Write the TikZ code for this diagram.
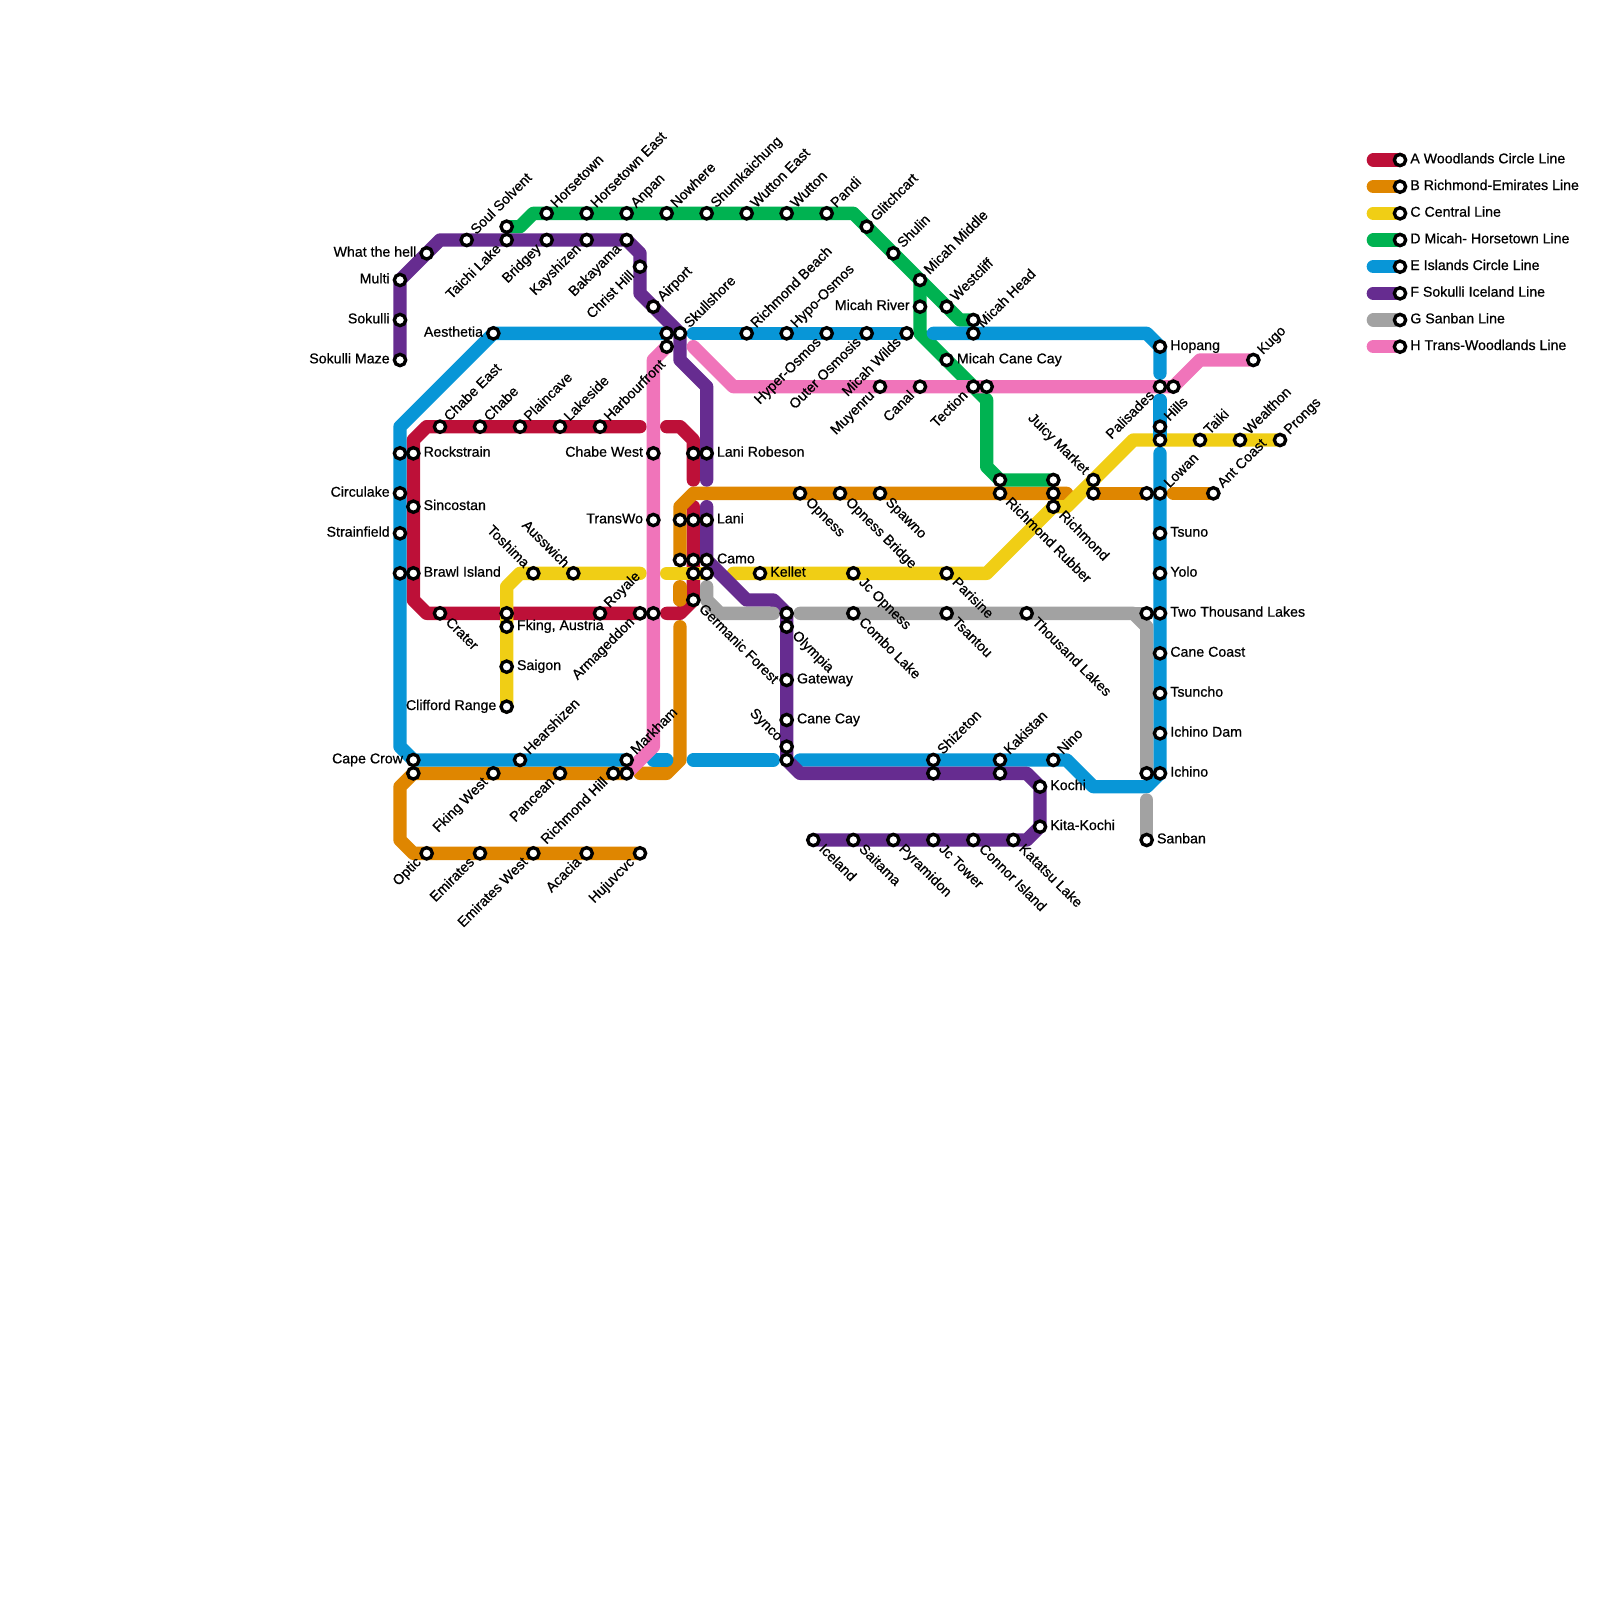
\documentclass[tikz,border=0pt]{standalone}
\usepackage{fontspec}
\setmainfont{Liberation Sans}[FakeBold=0.7]
\usetikzlibrary{backgrounds}
\definecolor{linea}{HTML}{BD1038}
\definecolor{lineb}{HTML}{DF8600}
\definecolor{linec}{HTML}{F0CE15}
\definecolor{lined}{HTML}{00B251}
\definecolor{linee}{HTML}{0896D7}
\definecolor{linef}{HTML}{662C90}
\definecolor{lineg}{HTML}{A2A2A2}
\definecolor{lineh}{HTML}{F074BA}
\tikzset{
    metro/.style={line width=4mm, line cap=round, line join=round},
    aline/.style={metro, draw=linea},
    bline/.style={metro, draw=lineb},
    cline/.style={metro, draw=linec},
    dline/.style={metro, draw=lined},
    eline/.style={metro, draw=linee},
    fline/.style={metro, draw=linef},
    gline/.style={metro, draw=lineg},
    hline/.style={metro, draw=lineh},
    stn/.style={circle, draw=black, fill=white, line width=1mm, minimum size=3.4mm, inner sep=0pt, outer sep=0pt},
    lbl/.style={font=\fontsize{12.1}{12}\selectfont, inner ysep=0pt, inner xsep=3.1mm, text height=5.7pt, text depth=0pt, outer sep=0pt},
    lble/.style={lbl, anchor=west},
    lblw/.style={lbl, anchor=east},
    lblne/.style={lbl, rotate=45, anchor=west},
    lblsw/.style={lbl, rotate=45, anchor=east},
    lblse/.style={lbl, rotate=-45, anchor=west},
    lblnw/.style={lbl, rotate=-45, anchor=east},
}
\begin{document}
\begin{tikzpicture}[x=4mm, y=-4mm]
        \useasboundingbox (0,0) rectangle (120,120);

        \node [stn] (maze) at (30,27) {}; \node [lblw] (mazet) at (maze) {Sokulli Maze};
        \node [stn] (sokulli) at (30,24) {}; \node [lblw] (sokullit) at (sokulli) {Sokulli};
        \node [stn] (multi) at (30,21) {}; \node [lblw] (multit) at (multi) {Multi};
        \node [stn] (what) at (32,19) {}; \node [lblw] (whatt) at (what) {What the hell};
        \node [stn] (soul) at (35,18) {}; \node [lblne] (soult) at (soul) {Soul Solvent};
        \node [stn] (taichi) at (38,18) {}; \node [lblsw] (taichit) at (taichi) {Taichi Lake};
        \node [stn] (bridgey) at (41,18) {}; \node [lblsw] (bridgeyt) at (bridgey) {Bridgey};
        \node [stn] (kayshizen) at (44,18) {}; \node [lblsw] (kayshizent) at (kayshizen) {Kayshizen};
        \node [stn] (bakayama) at (47,18) {}; \node [lblsw] (bakayamat) at (bakayama) {Bakayama};
        \node [stn] (christ) at (48,20) {}; \node [lblsw] (christt) at (christ) {Christ Hill};
        \node [stn] (airport) at (49,23) {}; \node [lblne] (airportt) at (airport) {Airport};
        \node [stn] (skullshore) at (51,25) {}; \node [lblne] (skullshoret) at (skullshore) {Skullshore};
        \node [stn] (robesonf) at (53,34) {}; \node [lble] (robesonft) at (robesonf) {Lani Robeson};
        \node [stn] (lani) at (53,39) {}; \node [lble] (lanit) at (lani) {Lani};
        \node [stn] (camo) at (53,42) {}; \node [lble] (camot) at (camo) {Camo};
        \node [stn] (olympiau) at (59,46) {};
        \node [stn] (olympia) at (59,47) {}; \node [lblse] (olympiat) at (olympia) {Olympia};
        \node [stn] (gateway) at (59,51) {}; \node [lble] (gatewayt) at (gateway) {Gateway};
        \node [stn] (canecay) at (59,54) {}; \node [lble] (canecayt) at (canecay) {Cane Cay};
        \node [stn] (synco) at (59,56) {}; \node [lblnw] (syncot) at (synco) {Synco};
        \node [stn] (syncos) at (59,57) {};
        \node [stn] (shizs) at (70,58) {};
        \node [stn] (kakis) at (75,58) {};
        \node [stn] (kochi) at (78,59) {}; \node [lble] (kochit) at (kochi) {Kochi};
        \node [stn] (kitakochi) at (78,62) {}; \node [lble] (kitakochit) at (kitakochi) {Kita-Kochi};
        \node [stn] (katatsu) at (76,63) {}; \node [lblse] (katatsut) at (katatsu) {Katatsu Lake};
        \node [stn] (connor) at (73,63) {}; \node [lblse] (connort) at (connor) {Connor Island};
        \node [stn] (jctower) at (70,63) {}; \node [lblse] (jctowert) at (jctower) {Jc Tower};
        \node [stn] (pyramidon) at (67,63) {}; \node [lblse] (pyramidont) at (pyramidon) {Pyramidon};
        \node [stn] (saitama) at (64,63) {}; \node [lblse] (saitamat) at (saitama) {Saitama};
        \node [stn] (iceland) at (61,63) {}; \node [lblse] (icelandt) at (iceland) {Iceland};

        \node [stn] (taichiu) at (38,17) {};
        \node [stn] (horsetown) at (41,16) {}; \node [lblne] (horsetownt) at (horsetown) {Horsetown};
        \node [stn] (horsetowne) at (44,16) {}; \node [lblne] (horsetownet) at (horsetowne) {Horsetown East};
        \node [stn] (anpan) at (47,16) {}; \node [lblne] (anpant) at (anpan) {Anpan};
        \node [stn] (nowhere) at (50,16) {}; \node [lblne] (nowheret) at (nowhere) {Nowhere};
        \node [stn] (shumkaichung) at (53,16) {}; \node [lblne] (shumkaichungt) at (shumkaichung) {Shumkaichung};
        \node [stn] (wuttone) at (56,16) {}; \node [lblne] (wuttonet) at (wuttone) {Wutton East};
        \node [stn] (wutton) at (59,16) {}; \node [lblne] (wuttont) at (wutton) {Wutton};
        \node [stn] (pandi) at (62,16) {}; \node [lblne] (pandit) at (pandi) {Pandi};
        \node [stn] (glitchcart) at (65,17) {}; \node [lblne] (glitchcartt) at (glitchcart) {Glitchcart};
        \node [stn] (shulin) at (67,19) {}; \node [lblne] (shulint) at (shulin) {Shulin};
        \node [stn] (micahmiddle) at (69,21) {}; \node [lblne] (micahmiddlet) at (micahmiddle) {Micah Middle};
        \node [stn] (micahriver) at (69,23) {}; \node [lblw] (micahrivert) at (micahriver) {Micah River};
        \node [stn] (westcliff) at (71,23) {}; \node [lblne] (westclifft) at (westcliff) {Westcliff};
        \node [stn] (micahheadu) at (73,24) {};
        \node [stn] (micahcane) at (71,27) {}; \node [lble] (micahcanet) at (micahcane) {Micah Cane Cay};
        \node [stn] (tection) at (73,29) {}; \node [lblsw] (tectiont) at (tection) {Tection};
        \node [stn] (tectione) at (74,29) {};
        \node [stn] (rubberu) at (75,36) {};
        \node [stn] (richmondu) at (79,36) {};

        \node [stn] (aesthetia) at (37,25) {}; \node [lblw] (aesthetiat) at (aesthetia) {Aesthetia};
        \node [stn] (skullw) at (50,25) {};
        \node [stn] (rockw) at (30,34) {};
        \node [stn] (circulake) at (30,37) {}; \node [lblw] (circulaket) at (circulake) {Circulake};
        \node [stn] (strainfield) at (30,40) {}; \node [lblw] (strainfieldt) at (strainfield) {Strainfield};
        \node [stn] (brawlw) at (30,43) {};
        \node [stn] (capecrow) at (31,57) {}; \node [lblw] (capecrowt) at (capecrow) {Cape Crow};
        \node [stn] (hearshizen) at (39,57) {}; \node [lblne] (hearshizent) at (hearshizen) {Hearshizen};
        \node [stn] (markham) at (47,57) {}; \node [lblne] (markhamt) at (markham) {Markham};
        \node [stn] (shizeton) at (70,57) {}; \node [lblne] (shizetont) at (shizeton) {Shizeton};
        \node [stn] (kakistan) at (75,57) {}; \node [lblne] (kakistant) at (kakistan) {Kakistan};
        \node [stn] (nino) at (79,57) {}; \node [lblne] (ninot) at (nino) {Nino};
        \node [stn] (ichino) at (87,58) {}; \node [lble] (ichinot) at (ichino) {Ichino};
        \node [stn] (ichinodam) at (87,55) {}; \node [lble] (ichinodamt) at (ichinodam) {Ichino Dam};
        \node [stn] (tsuncho) at (87,52) {}; \node [lble] (tsunchot) at (tsuncho) {Tsuncho};
        \node [stn] (canecoast) at (87,49) {}; \node [lble] (canecoastt) at (canecoast) {Cane Coast};
        \node [stn] (twolakes) at (87,46) {}; \node [lble] (twolakest) at (twolakes) {Two Thousand Lakes};
        \node [stn] (yolo) at (87,43) {}; \node [lble] (yolot) at (yolo) {Yolo};
        \node [stn] (tsuno) at (87,40) {}; \node [lble] (tsunot) at (tsuno) {Tsuno};
        \node [stn] (lowan) at (87,37) {}; \node [lblne] (lowant) at (lowan) {Lowan};
        \node [stn] (hillsj) at (87,33) {};
        \node [stn] (hills) at (87,32) {}; \node [lblne] (hillst) at (hills) {Hills};
        \node [stn] (hopang) at (87,26) {}; \node [lble] (hopangt) at (hopang) {Hopang};
        \node [stn] (micahhead) at (73,25) {}; \node [lblne] (micahheadt) at (micahhead) {Micah Head};
        \node [stn] (micahwilds) at (68,25) {}; \node [lblsw] (micahwildst) at (micahwilds) {Micah Wilds};
        \node [stn] (outer) at (65,25) {}; \node [lblsw] (outert) at (outer) {Outer Osmosis};
        \node [stn] (hyper) at (62,25) {}; \node [lblsw] (hypert) at (hyper) {Hyper-Osmos};
        \node [stn] (hypo) at (59,25) {}; \node [lblne] (hypot) at (hypo) {Hypo-Osmos};
        \node [stn] (beach) at (56,25) {}; \node [lblne] (beacht) at (beach) {Richmond Beach};

        \node [stn] (chabee) at (33,32) {}; \node [lblne] (chabeet) at (chabee) {Chabe East};
        \node [stn] (chabe) at (36,32) {}; \node [lblne] (chabet) at (chabe) {Chabe};
        \node [stn] (plaincave) at (39,32) {}; \node [lblne] (plaincavet) at (plaincave) {Plaincave};
        \node [stn] (lakeside) at (42,32) {}; \node [lblne] (lakesidet) at (lakeside) {Lakeside};
        \node [stn] (harbourfront) at (45,32) {}; \node [lblne] (harbourfrontt) at (harbourfront) {Harbourfront};
        \node [stn] (rockstrain) at (31,34) {}; \node [lble] (rockstraint) at (rockstrain) {Rockstrain};
        \node [stn] (sincostan) at (31,38) {}; \node [lble] (sincostant) at (sincostan) {Sincostan};
        \node [stn] (brawl) at (31,43) {}; \node [lble] (brawlt) at (brawl) {Brawl Island};
        \node [stn] (crater) at (33,46) {}; \node [lblse] (cratert) at (crater) {Crater};
        \node [stn] (austriau) at (38,46) {};
        \node [stn] (royale) at (45,46) {}; \node [lblne] (royalet) at (royale) {Royale};
        \node [stn] (armageddon) at (48,46) {}; \node [lblsw] (armageddont) at (armageddon) {Armageddon};
        \node [stn] (robesonw) at (52,34) {};
        \node [stn] (lanim) at (52,39) {};
        \node [stn] (camom) at (52,42) {};
        \node [stn] (camos) at (52,43) {};
        \node [stn] (germanic) at (52,45) {}; \node [lblse] (germanict) at (germanic) {Germanic Forest};

        \node [stn] (rubber) at (75,37) {}; \node [lblse] (rubbert) at (rubber) {Richmond Rubber};
        \node [stn] (richmondm) at (79,37) {};
        \node [stn] (spawno) at (66,37) {}; \node [lblse] (spawnot) at (spawno) {Spawno};
        \node [stn] (opnessb) at (63,37) {}; \node [lblse] (opnessbt) at (opnessb) {Opness Bridge};
        \node [stn] (opness) at (60,37) {}; \node [lblse] (opnesst) at (opness) {Opness};
        \node [stn] (lanil) at (51,39) {};
        \node [stn] (camol) at (51,42) {};
        \node [stn] (markhams) at (47,58) {};
        \node [stn] (richmondhill) at (46,58) {}; \node [lblsw] (richmondhillt) at (richmondhill) {Richmond Hill};
        \node [stn] (pancean) at (42,58) {}; \node [lblsw] (panceant) at (pancean) {Pancean};
        \node [stn] (fkingw) at (37,58) {}; \node [lblsw] (fkingwt) at (fkingw) {Fking West};
        \node [stn] (capes) at (31,58) {};
        \node [stn] (optic) at (32,64) {}; \node [lblsw] (optict) at (optic) {Optic};
        \node [stn] (emirates) at (36,64) {}; \node [lblsw] (emiratest) at (emirates) {Emirates};
        \node [stn] (emiratesw) at (40,64) {}; \node [lblsw] (emirateswt) at (emiratesw) {Emirates West};
        \node [stn] (acacia) at (44,64) {}; \node [lblsw] (acaciat) at (acacia) {Acacia};
        \node [stn] (hujuvcvc) at (48,64) {}; \node [lblsw] (hujuvcvct) at (hujuvcvc) {Hujuvcvc};
        \node [stn] (juicys) at (82,37) {};
        \node [stn] (lowanw) at (86,37) {};
        \node [stn] (antcoast) at (91,37) {}; \node [lblne] (antcoastt) at (antcoast) {Ant Coast};

        \node [stn] (clifford) at (38,53) {}; \node [lblw] (cliffordt) at (clifford) {Clifford Range};
        \node [stn] (saigon) at (38,50) {}; \node [lble] (saigont) at (saigon) {Saigon};
        \node [stn] (austria) at (38,47) {}; \node [lble] (austriat) at (austria) {Fking, Austria};
        \node [stn] (toshima) at (40,43) {}; \node [lblnw] (toshimat) at (toshima) {Toshima};
        \node [stn] (ausswich) at (43,43) {}; \node [lblnw] (ausswicht) at (ausswich) {Ausswich};
        \node [stn] (camoe) at (53,43) {};
        \node [stn] (kellet) at (57,43) {}; \node [lble] (kellett) at (kellet) {Kellet};
        \node [stn] (jcopness) at (64,43) {}; \node [lblse] (jcopnesst) at (jcopness) {Jc Opness};
        \node [stn] (parisine) at (71,43) {}; \node [lblse] (parisinet) at (parisine) {Parisine};
        \node [stn] (richmond) at (79,38) {}; \node [lblse] (richmondt) at (richmond) {Richmond};
        \node [stn] (juicy) at (82,36) {}; \node [lblnw] (juicyt) at (juicy) {Juicy Market};
        \node [stn] (taiki) at (90,33) {}; \node [lblne] (taikit) at (taiki) {Taiki};
        \node [stn] (wealthon) at (93,33) {}; \node [lblne] (wealthont) at (wealthon) {Wealthon};
        \node [stn] (prongs) at (96,33) {}; \node [lblne] (prongst) at (prongs) {Prongs};

        \node [stn] (combo) at (64,46) {}; \node [lblse] (combot) at (combo) {Combo Lake};
        \node [stn] (tsantou) at (71,46) {}; \node [lblse] (tsantout) at (tsantou) {Tsantou};
        \node [stn] (thousand) at (77,46) {}; \node [lblse] (thousandt) at (thousand) {Thousand Lakes};
        \node [stn] (twow) at (86,46) {};
        \node [stn] (ichinow) at (86,58) {};
        \node [stn] (sanban) at (86,63) {}; \node [lble] (sanbant) at (sanban) {Sanban};

        \node [stn] (harbourp) at (50,26) {};
        \node [stn] (chabew) at (49,34) {}; \node [lblw] (chabewt) at (chabew) {Chabe West};
        \node [stn] (transwo) at (49,39) {}; \node [lblw] (transwot) at (transwo) {TransWo};
        \node [stn] (pinkcross) at (49,46) {};
        \node [stn] (muyenru) at (66,29) {}; \node [lblsw] (muyenrut) at (muyenru) {Muyenru};
        \node [stn] (canal) at (69,29) {}; \node [lblsw] (canalt) at (canal) {Canal};
        \node [stn] (palisades) at (87,29) {}; \node [lblsw] (palisadest) at (palisades) {Palisades};
        \node [stn] (palisadese) at (88,29) {};
        \node [stn] (kugo) at (94,27) {}; \node [lblne] (kugot) at (kugo) {Kugo};

        \node [stn] (keya) at (105,12) {}; \node [lble] (keyat) at (keya) {A Woodlands Circle Line};
        \node [stn] (keyb) at (105,14) {}; \node [lble] (keybt) at (keyb) {B Richmond-Emirates Line};
        \node [stn] (keyc) at (105,16) {}; \node [lble] (keyct) at (keyc) {C Central Line};
        \node [stn] (keyd) at (105,18) {}; \node [lble] (keydt) at (keyd) {D Micah- Horsetown Line};
        \node [stn] (keye) at (105,20) {}; \node [lble] (keyet) at (keye) {E Islands Circle Line};
        \node [stn] (keyf) at (105,22) {}; \node [lble] (keyft) at (keyf) {F Sokulli Iceland Line};
        \node [stn] (keyg) at (105,24) {}; \node [lble] (keygt) at (keyg) {G Sanban Line};
        \node [stn] (keyh) at (105,26) {}; \node [lble] (keyht) at (keyh) {H Trans-Woodlands Line};

        \coordinate (a1) at (48,32);
        \coordinate (a2) at (32,32);
        \coordinate (a3) at (31,33);
        \coordinate (a4) at (31,45);
        \coordinate (a5) at (32,46);
        \coordinate (a6) at (50,32);
        \coordinate (a7) at (51,32);
        \coordinate (a8) at (52,33);
        \coordinate (a9) at (52,36);
        \coordinate (a10) at (52,38);
        \coordinate (a11) at (51,46);
        \coordinate (a12) at (50,46);

        \coordinate (b1) at (80,37);
        \coordinate (b2) at (52,37);
        \coordinate (b3) at (51,38);
        \coordinate (b4) at (51,44);
        \coordinate (b5) at (51,45);
        \coordinate (b6) at (51,47);
        \coordinate (b7) at (51,57);
        \coordinate (b8) at (50,58);
        \coordinate (b9) at (48,58);
        \coordinate (b10) at (30,59);
        \coordinate (b11) at (30,63);
        \coordinate (b12) at (31,64);
        \coordinate (b13) at (88,37);

        \coordinate (c1) at (38,44);
        \coordinate (c2) at (39,43);
        \coordinate (c3) at (48,43);
        \coordinate (c4) at (50,43);
        \coordinate (c5) at (55,43);
        \coordinate (c6) at (74,43);
        \coordinate (c7) at (80,38);
        \coordinate (c8) at (85,33);

        \coordinate (d0) at (39,17);
        \coordinate (d1) at (40,16);
        \coordinate (d2) at (64,16);
        \coordinate (d3) at (72,24);
        \coordinate (d4) at (69,25);
        \coordinate (d5) at (74,30);
        \coordinate (d6) at (74,35);

        \coordinate (e1) at (30,32);
        \coordinate (e2) at (30,56);
        \coordinate (e3) at (49,57);
        \coordinate (e4) at (50,57);
        \coordinate (e5) at (52,57);
        \coordinate (e6) at (58,57);
        \coordinate (e7) at (60,57);
        \coordinate (e8) at (80,57);
        \coordinate (e9) at (82,59);
        \coordinate (e10) at (86,59);
        \coordinate (e11) at (87,34);
        \coordinate (e12) at (87,30);
        \coordinate (e13) at (87,28);
        \coordinate (e14) at (86,25);
        \coordinate (e15) at (70,25);
        \coordinate (e16) at (52,25);

        \coordinate (f1) at (33,18);
        \coordinate (f2) at (48,19);
        \coordinate (f3) at (48,22);
        \coordinate (f4) at (51,27);
        \coordinate (f5) at (53,29);
        \coordinate (f6) at (53,36);
        \coordinate (f7) at (53,38);
        \coordinate (f8) at (56,45);
        \coordinate (f9) at (58,45);
        \coordinate (f10) at (60,58);
        \coordinate (f11) at (77,58);
        \coordinate (f12) at (77,63);

        \coordinate (g1) at (53,44);
        \coordinate (g2) at (53,45);
        \coordinate (g3) at (54,46);
        \coordinate (g4) at (58,46);
        \coordinate (g5) at (60,46);
        \coordinate (g6) at (85,46);
        \coordinate (g7) at (86,47);
        \coordinate (g8) at (86,60);

        \coordinate (h1) at (49,27);
        \coordinate (h2) at (49,56);
        \coordinate (h3) at (52,26);
        \coordinate (h4) at (55,29);
        \coordinate (h5) at (90,27);

        \coordinate (starta) at (103,12);
        \coordinate (startb) at (103,14);
        \coordinate (startc) at (103,16);
        \coordinate (startd) at (103,18);
        \coordinate (starte) at (103,20);
        \coordinate (startf) at (103,22);
        \coordinate (startg) at (103,24);
        \coordinate (starth) at (103,26);

        \begin{scope}[on background layer]
        \draw [aline] (starta) -- (keya.center);
        \draw [bline] (startb) -- (keyb.center);
        \draw [cline] (startc) -- (keyc.center);
        \draw [dline] (startd) -- (keyd.center);
        \draw [eline] (starte) -- (keye.center);
        \draw [fline] (startf) -- (keyf.center);
        \draw [gline] (startg) -- (keyg.center);
        \draw [hline] (starth) -- (keyh.center);

        \draw [aline] (a1) -- (harbourfront.center) -- (lakeside.center) -- (plaincave.center) -- (chabe.center) -- (chabee.center) -- (a2) -- (a3) -- (rockstrain.center) -- (sincostan.center) -- (brawl.center) -- (a4) -- (a5) -- (crater.center) -- (austriau.center) -- (royale.center) -- (armageddon.center);
        \draw [aline] (a6) -- (a7) -- (a8) -- (robesonw.center) -- (a9);
        \draw [aline] (a10) -- (lanim.center) -- (camom.center) -- (camos.center) -- (germanic.center) -- (a11) -- (a12);

        \draw [bline] (b1) -- (richmondm.center) -- (rubber.center) -- (spawno.center) -- (opnessb.center) -- (opness.center) -- (b2) -- (b3) -- (lanil.center) -- (camol.center);
        \draw [bline] (b4) -- (b5);
        \draw [bline] (b6) -- (b7) -- (b8) -- (b9);
        \draw [bline] (markhams.center) -- (richmondhill.center) -- (pancean.center) -- (fkingw.center) -- (capes.center) -- (b10) -- (b11) -- (b12) -- (optic.center) -- (emirates.center) -- (emiratesw.center) -- (acacia.center) -- (hujuvcvc.center);
        \draw [bline] (juicys.center) -- (lowanw.center);
        \draw [bline] (b13) -- (antcoast.center);

        \draw [cline] (clifford.center) -- (saigon.center) -- (austria.center) -- (austriau.center) -- (c1) -- (c2) -- (toshima.center) -- (ausswich.center) -- (c3);
        \draw [cline] (c4) -- (camos.center) -- (camoe.center);
        \draw [cline] (c5) -- (kellet.center) -- (jcopness.center) -- (parisine.center) -- (c6) -- (richmond.center) -- (c7) -- (juicy.center) -- (c8) -- (hillsj.center) -- (taiki.center) -- (wealthon.center) -- (prongs.center);

        \draw [dline] (taichiu.center) -- (d0) -- (d1) -- (horsetown.center) -- (horsetowne.center) -- (anpan.center) -- (nowhere.center) -- (shumkaichung.center) -- (wuttone.center) -- (wutton.center) -- (pandi.center) -- (d2) -- (glitchcart.center) -- (shulin.center) -- (micahmiddle.center) -- (westcliff.center) -- (d3) -- (micahheadu.center);
        \draw [dline] (micahmiddle.center) -- (micahriver.center) -- (d4) -- (micahcane.center) -- (tection.center) -- (d5) -- (d6) -- (rubberu.center) -- (richmondu.center);

        \draw [eline] (skullw.center) -- (aesthetia.center) -- (e1) -- (rockw.center) -- (circulake.center) -- (strainfield.center) -- (brawlw.center) -- (e2) -- (capecrow.center) -- (hearshizen.center) -- (markham.center);
        \draw [eline] (e3) -- (e4);
        \draw [eline] (e5) -- (e6);
        \draw [eline] (e7) -- (shizeton.center) -- (kakistan.center) -- (nino.center) -- (e8) -- (e9) -- (e10) -- (ichino.center) -- (ichinodam.center) -- (tsuncho.center) -- (canecoast.center) -- (twolakes.center) -- (yolo.center) -- (tsuno.center) -- (lowan.center) -- (e11);
        \draw [eline] (hillsj.center) -- (hills.center) -- (e12);
        \draw [eline] (e13) -- (hopang.center) -- (e14) -- (micahhead.center) -- (e15);
        \draw [eline] (micahwilds.center) -- (outer.center) -- (hyper.center) -- (hypo.center) -- (beach.center) -- (e16);

        \draw [fline] (maze.center) -- (sokulli.center) -- (multi.center) -- (what.center) -- (f1) -- (soul.center) -- (taichi.center) -- (bridgey.center) -- (kayshizen.center) -- (bakayama.center) -- (f2) -- (christ.center) -- (f3) -- (airport.center) -- (skullshore.center) -- (f4) -- (f5) -- (robesonf.center) -- (f6);
        \draw [fline] (f7) -- (lani.center) -- (camo.center) -- (f8) -- (f9) -- (olympiau.center) -- (olympia.center) -- (gateway.center) -- (canecay.center) -- (synco.center) -- (syncos.center) -- (f10) -- (shizs.center) -- (kakis.center) -- (f11) -- (kochi.center) -- (kitakochi.center) -- (f12) -- (katatsu.center) -- (connor.center) -- (jctower.center) -- (pyramidon.center) -- (saitama.center) -- (iceland.center);

        \draw [gline] (g1) -- (g2) -- (g3) -- (g4);
        \draw [gline] (g5) -- (combo.center) -- (tsantou.center) -- (thousand.center) -- (g6) -- (g7) -- (ichinow.center);
        \draw [gline] (g6) -- (twow.center);
        \draw [gline] (g8) -- (sanban.center);

        \draw [hline] (harbourp.center) -- (h1) -- (chabew.center) -- (transwo.center) -- (pinkcross.center) -- (h2) -- (markhams.center);
        \draw [hline] (h3) -- (h4) -- (muyenru.center) -- (canal.center) -- (tection.center) -- (tectione.center) -- (palisades.center) -- (palisadese.center) -- (h5) -- (kugo.center);
        \end{scope}
    \end{tikzpicture}
\end{document}
